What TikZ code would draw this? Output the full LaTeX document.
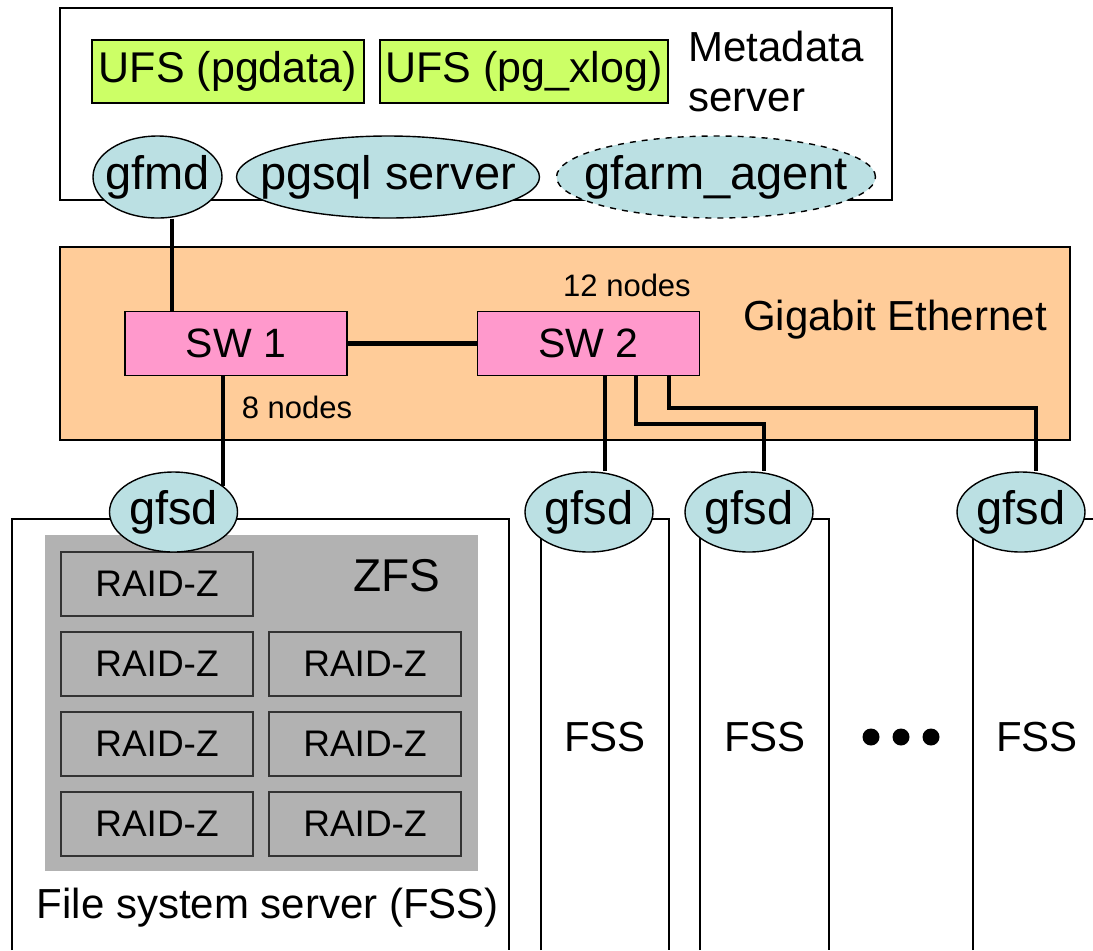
\documentclass[tikz,border=0pt]{standalone}
\usepackage{fontspec}
\setmainfont{Liberation Sans}
\usepackage{xcolor}
\usepackage{tikz}
\usetikzlibrary{positioning,calc,shapes.geometric}

\definecolor{ufsgreen}{HTML}{CCFF66}
\definecolor{procblue}{HTML}{BBE0E3}
\definecolor{netorange}{HTML}{FFCC99}
\definecolor{swpink}{HTML}{FF99CC}
\definecolor{zfsgray}{HTML}{B2B2B2}

\newcommand{\fs}[1]{\fontsize{#1}{#1}\selectfont}
% text that does not widen the ellipse
\newcommand{\pname}[1]{\makebox[0pt]{#1}}

\tikzset{
	proc/.style={draw,ellipse,fill=procblue,inner sep=0pt,line width=0.7pt,minimum height=41pt,font=\fs{23.5}},
	ufsbox/.style={draw,fill=ufsgreen,inner sep=0pt,line width=0.7pt,minimum height=31.5pt,font=\fs{21.5}},
	swbox/.style={draw,fill=swpink,inner sep=0pt,line width=0.7pt,minimum width=111pt,minimum height=32pt,font=\fs{20.5}},
	raidbox/.style={draw=black!80,fill=zfsgray,inner sep=0pt,line width=0.7pt,minimum width=96pt,minimum height=32pt,font=\fs{18.5}},
	link/.style={line width=2pt},
	frame/.style={line width=0.7pt},
}

\begin{document}
\begin{tikzpicture}[x=0.5pt,y=-0.5pt]
	\useasboundingbox (0,0) rectangle (1093,950);
	
	% metadata server
	\node[draw,frame,fill=white,minimum width=416pt,minimum height=96pt,inner sep=0pt] (mds) at (476,104) {};
	\node[ufsbox,minimum width=136pt] (pgdata) at (228,71.5) {UFS (pgdata)};
	\node[ufsbox,minimum width=144pt] (pgxlog) at (524,71.5) {UFS (pg\_xlog)};
	\node[anchor=west,align=left,inner sep=0pt,font=\fontsize{21}{25}\selectfont] (mdslabel) at (688,71) {Metadata\\server};
	
	% gigabit ethernet
	\node[draw,frame,fill=netorange,minimum width=505pt,minimum height=96.5pt,inner sep=0pt] (gbe) at (565,343.5) {};
	\node[font=\fs{21}] (gbelabel) at (895,320) {Gigabit Ethernet};
	\node[font=\fs{15.5}] (n12) at (627,285) {12 nodes};
	\node[font=\fs{15.5}] (n8) at (297,407) {8 nodes};
	\node[swbox] (sw1) at (236,343.5) {SW 1};
	\node[swbox] (sw2) at (588.5,343.5) {SW 2};
	
	% file system servers
	\draw[frame] (12,950) |- (509,519) -- (509,950);
	\foreach \l/\r in {541/669,700/829,973/1100} {
		\draw[frame] (\l,950) |- (\r,519) -- (\r,950);
	}
	\fill[zfsgray] (45,535) rectangle (478,871);
	\node[font=\fs{23}] (zfs) at (397,576) {ZFS};
	\node[raidbox] (raid1a) at (157,584) {RAID-Z};
	\foreach \r/\y in {2/664,3/744,4/824} {
		\node[raidbox] (raid\r a) at (157,\y) {RAID-Z};
		\node[raidbox] (raid\r b) at (365,\y) {RAID-Z};
	}
	\node[font=\fs{21}] (fsslabel) at (268,908) {File system server (FSS)};
	\node[font=\fs{21}] (fss2) at (605,737) {FSS};
	\node[font=\fs{21}] (fss3) at (765,737) {FSS};
	\node[font=\fs{21}] (fss4) at (1037,737) {FSS};
	\foreach \x in {871,901,931} { \fill (\x,737) circle (8.5); }
	
	% daemons
	\node[proc,minimum width=64.5pt] (gfmd) at (157.5,177) {\pname{gfmd}};
	\node[proc,minimum width=151.5pt] (pgsql) at (388,177) {\pname{pgsql server}};
	\node[proc,dashed,minimum width=159.5pt] (agent) at (716,177) {\pname{gfarm\_agent}};
	\node[proc,minimum width=64pt,minimum height=40pt] (gfsd1) at (173.5,512) {\pname{gfsd}};
	\node[proc,minimum width=64pt,minimum height=40pt] (gfsd2) at (589,512) {\pname{gfsd}};
	\node[proc,minimum width=64pt,minimum height=40pt] (gfsd3) at (749,512) {\pname{gfsd}};
	\node[proc,minimum width=64pt,minimum height=40pt] (gfsd4) at (1021,512) {\pname{gfsd}};
	
	% links
	\draw[link] ([xshift=7.25pt]gfmd.south) -- ([xshift=7.25pt]gfmd.south |- sw1.north);
	\draw[line width=2.5pt] (sw1) -- (sw2);
	\draw[link] (gfsd1.28 |- sw1.south) -- (gfsd1.28);
	\draw[link] ([xshift=8.25pt]sw2.south) -- ([xshift=8.25pt]sw2.south |- gfsd2.north);
	\draw[link] ([xshift=23.75pt]sw2.south) -- ++(0,48) -| ([xshift=7.5pt]gfsd3.north);
	\draw[link] ([xshift=40.25pt]sw2.south) -- ++(0,32) -| ([xshift=7.5pt]gfsd4.north);
\end{tikzpicture}
\end{document}
